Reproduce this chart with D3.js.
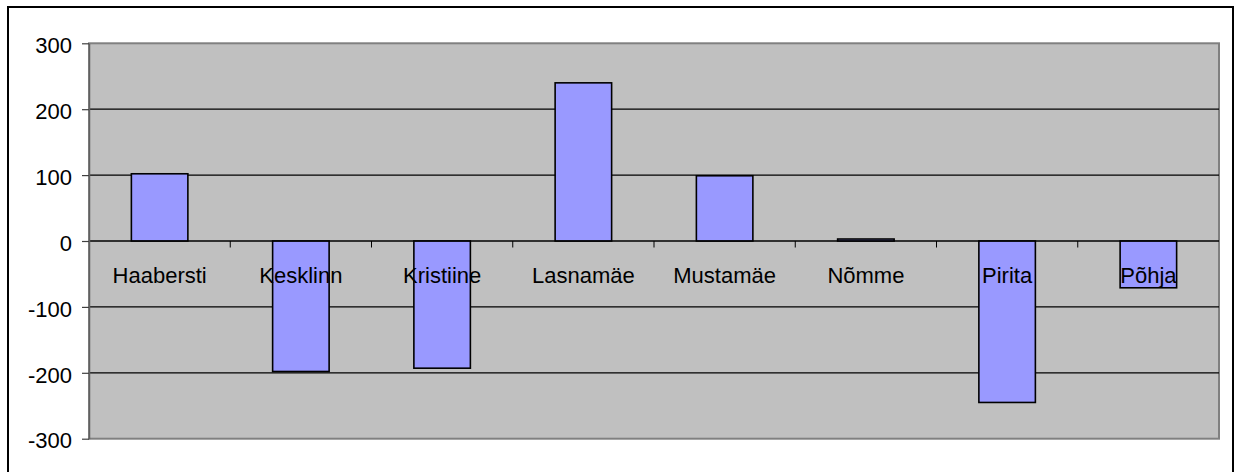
<!DOCTYPE html>
<html>
<head>
<meta charset="utf-8">
<script src="https://cdn.jsdelivr.net/npm/d3@7"></script>
<style>
  html, body { margin: 0; padding: 0; background: #ffffff; }
  svg { display: block; }
  text { font-family: "Liberation Sans", Arial, sans-serif; }
</style>
</head>
<body>
<script>
// Tallinn districts and their change values
const categories = ["Haabersti", "Kesklinn", "Kristiine", "Lasnamäe", "Mustamäe", "Nõmme", "Pirita", "Põhja"];
const values = [102, -198, -193, 240, 99, 3, -245, -71];
const yTicks = [-300, -200, -100, 0, 100, 200, 300];
const yTickLabels = ["-300", "-200", "-100", "0", "100", "200", "300"];

const W = 1235, H = 472;
const plot = { left: 89, right: 1219, top: 43.3, bottom: 438.7 };

const svg = d3.select("body").append("svg")
  .attr("width", W).attr("height", H);

// Outer chart frame
svg.append("rect")
  .attr("x", 8).attr("y", 7)
  .attr("width", 1225).attr("height", 480)
  .attr("fill", "#ffffff")
  .attr("stroke", "#000000").attr("stroke-width", 2);

const x = d3.scaleBand()
  .domain(categories)
  .range([plot.left, plot.right])
  .paddingInner(0).paddingOuter(0);

const y = d3.scaleLinear()
  .domain([-300, 300])
  .range([plot.bottom, plot.top]);

// Plot background
svg.append("rect")
  .attr("x", plot.left).attr("y", plot.top)
  .attr("width", plot.right - plot.left).attr("height", plot.bottom - plot.top)
  .attr("fill", "#c0c0c0")
  .attr("stroke", "#808080").attr("stroke-width", 2);

// Horizontal gridlines
svg.append("g")
  .selectAll("line")
  .data(yTicks.filter(t => t !== 300 && t !== -300))
  .join("line")
  .attr("x1", plot.left).attr("x2", plot.right)
  .attr("y1", d => y(d)).attr("y2", d => y(d))
  .attr("stroke", "#000000").attr("stroke-width", 1.2);

// Bars
const barFrac = 0.4;
svg.append("g")
  .selectAll("rect")
  .data(categories.map((c, i) => ({ c, v: values[i] })))
  .join("rect")
  .attr("x", d => x(d.c) + x.bandwidth() * (1 - barFrac) / 2)
  .attr("width", x.bandwidth() * barFrac)
  .attr("y", d => y(Math.max(0, d.v)))
  .attr("height", d => Math.abs(y(d.v) - y(0)))
  .attr("fill", "#9999ff")
  .attr("stroke", "#000000").attr("stroke-width", 1.6);

// Zero line (category axis)
svg.append("line")
  .attr("x1", plot.left).attr("x2", plot.right)
  .attr("y1", y(0)).attr("y2", y(0))
  .attr("stroke", "#000000").attr("stroke-width", 1.2);

// Category boundary tick marks
svg.append("g")
  .selectAll("line")
  .data(categories.slice(1))
  .join("line")
  .attr("x1", d => x(d)).attr("x2", d => x(d))
  .attr("y1", y(0)).attr("y2", y(0) + 6.5)
  .attr("stroke", "#000000").attr("stroke-width", 1);

// Value axis
const yAxis = svg.append("g")
  .attr("transform", `translate(${plot.left},0)`)
  .call(d3.axisLeft(y)
    .tickValues(yTicks)
    .tickFormat((d, i) => yTickLabels[i])
    .tickSize(7).tickPadding(10).tickSizeOuter(0));
yAxis.select(".domain").attr("stroke", "#606060").attr("stroke-width", 1.5);
yAxis.selectAll(".tick line").attr("stroke", "#404040").attr("stroke-width", 1.2);
yAxis.selectAll("text")
  .attr("dy", "0.42em")
  .attr("fill", "#000000")
  .style("font-size", "22px")
  .style("font-family", "'Liberation Sans', Arial, sans-serif");

// Category labels
const xAxis = svg.append("g")
  .attr("transform", `translate(0,${y(0)})`)
  .call(d3.axisBottom(x).tickSize(0).tickPadding(26));
xAxis.select(".domain").remove();
xAxis.selectAll("text")
  .attr("fill", "#000000")
  .style("font-size", "22px")
  .style("font-family", "'Liberation Sans', Arial, sans-serif");
</script>
</body>
</html>
